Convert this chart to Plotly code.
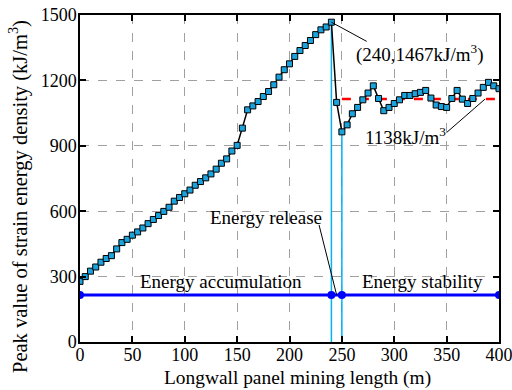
import plotly.graph_objects as go

length_m = list(range(0, 401, 5))
peak_energy = [
    278, 300, 325, 344, 366, 383, 396, 427, 456, 471,
    490, 505, 523, 543, 562, 580, 599, 618, 646, 663,
    680, 697, 719, 736, 753, 771, 793, 820, 840, 876,
    902, 981, 1065, 1083, 1103, 1126, 1149, 1180, 1215, 1249,
    1276, 1310, 1337, 1360, 1383, 1410, 1432, 1445, 1467,
    1099, 964, 996, 1047, 1076, 1111, 1142, 1175, 1117, 1061,
    1076, 1094, 1111, 1131, 1131, 1139, 1145, 1154, 1119, 1087,
    1080, 1076, 1117, 1154, 1114, 1094, 1117, 1142, 1168, 1191,
    1175, 1162,
]

stage_x = [0, 240, 250, 400]
stage_y = [216, 216, 216, 216]

release_x = [240, 250]
release_top = [1467, 964]

mean_x = [250, 400]
mean_y = [1115, 1115]

FONT = "Liberation Serif, Times New Roman, serif"
FS = 19

fig = go.Figure()

for xv, yt in zip(release_x, release_top):
    fig.add_trace(go.Scatter(x=[xv, xv], y=[0, yt], mode="lines",
                             line=dict(color="#00b4f0", width=1.5),
                             showlegend=False, hoverinfo="skip"))

fig.add_trace(go.Scatter(x=stage_x, y=stage_y, mode="lines+markers",
                         line=dict(color="#0000ff", width=3),
                         marker=dict(symbol="circle", size=8, color="#0000ff"),
                         showlegend=False))

fig.add_trace(go.Scatter(x=mean_x, y=mean_y, mode="lines",
                         line=dict(color="#ff0000", width=2.5, dash="dash"),
                         showlegend=False))

fig.add_trace(go.Scatter(x=length_m, y=peak_energy, mode="lines+markers",
                         line=dict(color="black", width=1.5),
                         marker=dict(symbol="square", size=6, color="#1aa3dc",
                                     line=dict(color="black", width=1)),
                         showlegend=False))

txt = dict(family=FONT, size=FS, color="black")
tickf = dict(family=FONT, size=18, color="black")

# leader lines
leaders = [((240, 1467), (273.7, 1379)), ((386.6, 1114), (350, 961)), ((245, 216), (228.2, 537))]
for (x0, y0), (x1, y1) in leaders:
    fig.add_shape(type="line", xref="x", yref="y", x0=x0, y0=y0, x1=x1, y1=y1,
                  line=dict(color="black", width=1))

ann = []
ann.append(dict(x=324.6, y=1325, text="(240,1467kJ/m<sup>3</sup>)", showarrow=False, font=txt))
ann.append(dict(x=311, y=943, text="1138kJ/m<sup>3</sup>", showarrow=False, font=txt))
ann.append(dict(x=177.5, y=573, text="Energy release", showarrow=False, font=txt))
ann.append(dict(x=134.4, y=276, text="Energy accumulation", showarrow=False, font=txt))
ann.append(dict(x=327, y=276, text="Energy stability", showarrow=False, font=txt))
ann.append(dict(xref="paper", yref="paper", x=(297 - 80) / 419, y=-(378 - 342) / 327,
                text="Longwall panel mining length (m)", showarrow=False,
                xanchor="center", yanchor="middle", font=dict(family=FONT, size=19.4, color="black")))
ann.append(dict(xref="paper", yref="paper", x=-(80 - 18) / 419, y=(342 - 197) / 327,
                text="Peak value of strain energy density (kJ/m<sup>3</sup>)", showarrow=False,
                textangle=-90, xanchor="center", yanchor="middle",
                font=dict(family=FONT, size=20.5, color="black")))

axis_common = dict(showline=True, linecolor="black", linewidth=1.5, mirror="ticks",
                   ticks="inside", ticklen=6, tickcolor="black", tickwidth=1.5,
                   showgrid=True, gridcolor="#a0a0a0", griddash="dash", gridwidth=1,
                   zeroline=False, automargin=False, tickfont=tickf,
                   ticklabeloverflow="allow")

fig.update_layout(
    width=512, height=390, autosize=False,
    margin=dict(l=80, r=13, t=15, b=48),
    paper_bgcolor="white", plot_bgcolor="white",
    font=txt,
    xaxis=dict(range=[0, 400], dtick=50, tick0=0, ticklabelstandoff=-4, **axis_common),
    yaxis=dict(range=[0, 1500], dtick=300, tick0=0, ticklabelstandoff=-2, **axis_common),
    annotations=ann,
)

fig.write_html("out.html")
